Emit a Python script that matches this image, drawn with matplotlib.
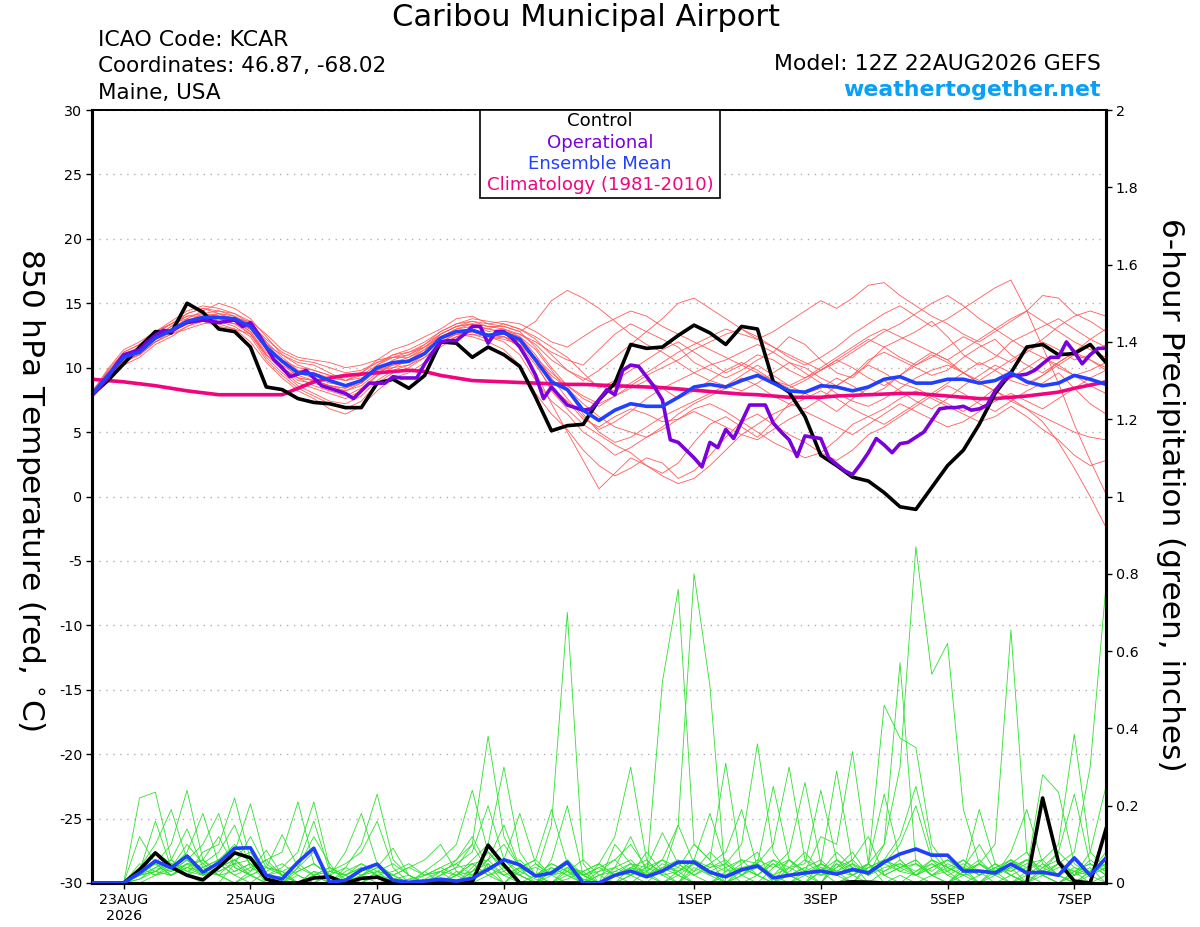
import numpy as np
import matplotlib
matplotlib.use('Agg')
import matplotlib.pyplot as plt
import matplotlib.dates as mdates

plt.rcParams['font.family'] = ['DejaVu Sans']

# ---- data ----
run_start = np.datetime64('2026-08-22T12:00')
n6 = 65   # 6-hourly steps, 22AUG 12Z .. 7SEP 12Z
n3 = 129  # 3-hourly steps for the operational run

tick_dates = ['2026-08-23', '2026-08-25', '2026-08-27', '2026-08-29',
              '2026-09-01', '2026-09-03', '2026-09-05', '2026-09-07']
tick_labels = ['23AUG\n2026', '25AUG', '27AUG', '29AUG', '1SEP', '3SEP', '5SEP', '7SEP']

# 850 hPa temperature, deg C
control_t = [7.9, 9.0, 10.3, 11.6, 12.8, 12.7, 15.0, 14.3, 13.0, 12.8, 11.6, 8.5, 8.3,
             7.6, 7.3, 7.2, 6.9, 6.9, 8.8, 9.1, 8.4, 9.4, 12.0, 11.9, 10.8, 11.6,
             11.0, 10.1, 7.7, 5.1, 5.5, 5.6, 7.5, 8.8, 11.8, 11.5, 11.6, 12.5, 13.3,
             12.7, 11.8, 13.2, 13.0, 8.9, 8.1, 6.2, 3.2, 2.4, 1.5, 1.2, 0.3, -0.8,
             -1.0, 0.7, 2.4, 3.6, 5.6, 8.0, 9.6, 11.6, 11.8, 11.0, 11.1, 11.8, 10.4]

operational_t = [7.9, 8.5, 9.2, 10.2, 11.0, 11.2, 11.4, 12.0,
                 12.5, 12.9, 12.8, 13.2, 13.5, 13.6, 13.7, 13.6,
                 13.5, 13.6, 13.7, 13.2, 13.5, 12.6, 11.6, 10.6,
                 10.0, 9.3, 9.5, 9.8, 9.2, 8.6, 8.4, 8.2,
                 8.0, 7.6, 8.2, 8.8, 8.8, 8.8, 9.3, 9.2,
                 9.2, 9.2, 10.3, 11.2, 12.0, 12.1, 12.1, 12.6,
                 13.2, 13.2, 11.9, 12.8, 12.8, 12.3, 11.6, 10.6,
                 9.4, 7.6, 8.5, 7.8, 7.1, 6.9, 6.7, 6.8,
                 7.5, 8.3, 7.9, 9.8, 10.2, 10.1, 9.3, 8.5,
                 7.5, 4.4, 4.2, 3.6, 3.0, 2.3, 4.2, 3.8,
                 5.2, 4.5, 5.8, 7.1, 7.1, 7.1, 5.7, 5.0,
                 4.4, 3.1, 4.7, 4.6, 4.5, 3.0, 2.5, 2.0,
                 1.7, 2.5, 3.4, 4.5, 4.0, 3.4, 4.1, 4.2,
                 4.6, 5.0, 5.9, 6.8, 6.9, 6.9, 7.0, 6.7,
                 6.8, 7.1, 8.2, 9.0, 9.4, 9.4, 9.5, 9.8,
                 10.3, 10.8, 10.8, 12.0, 11.2, 10.3, 11.0, 11.5,
                 11.5]

mean_t = [7.9, 9.4, 10.8, 11.2, 12.3, 12.9, 13.6, 13.9, 13.9, 13.8, 13.2, 11.6, 10.5,
          9.6, 9.5, 9.0, 8.6, 9.0, 10.0, 10.4, 10.5, 11.1, 12.3, 12.8, 12.9, 12.5,
          12.7, 12.2, 10.6, 8.9, 8.3, 6.7, 5.9, 6.7, 7.2, 7.0, 7.0, 7.7, 8.5,
          8.7, 8.5, 9.0, 9.4, 8.8, 8.2, 8.1, 8.6, 8.5, 8.2, 8.5, 9.1, 9.3,
          8.8, 8.8, 9.1, 9.1, 8.8, 9.0, 9.6, 8.9, 8.6, 8.8, 9.4, 9.1, 8.7]

clim_t = [9.1, 9.0, 8.9, 8.75, 8.6, 8.4, 8.2, 8.05, 7.9, 7.9, 7.9, 7.9, 7.9,
          8.4, 8.9, 9.2, 9.4, 9.5, 9.6, 9.7, 9.8, 9.7, 9.4, 9.2, 9.0, 8.95,
          8.9, 8.85, 8.8, 8.75, 8.7, 8.7, 8.65, 8.6, 8.55, 8.5, 8.45, 8.35, 8.25,
          8.15, 8.05, 7.95, 7.9, 7.8, 7.7, 7.7, 7.7, 7.8, 7.85, 7.9, 7.95, 8.0,
          8.0, 7.9, 7.8, 7.7, 7.6, 7.6, 7.7, 7.8, 7.95, 8.1, 8.4, 8.65, 8.9]

member_t = [
    [8.0, 9.8, 11.2, 11.8, 12.6, 13.4, 14.2, 14.6, 14.2, 13.6, 12.8, 11.2, 10.2,
     9.4, 9.0, 8.6, 8.2, 8.8, 9.8, 10.6, 11.0, 11.8, 12.6, 13.2, 13.4, 12.8,
     13.0, 12.6, 12.0, 11.2, 10.6, 10.2, 11.4, 12.6, 13.4, 12.8, 12.2, 11.6, 10.4,
     9.8, 9.2, 9.8, 10.6, 11.2, 12.4, 11.8, 10.6, 9.6, 9.2, 10.4, 11.6, 12.2,
     12.8, 13.6, 12.4, 11.0, 10.2, 10.8, 12.0, 12.6, 13.2, 13.8, 13.0, 12.2, 11.6],
    [7.8, 9.0, 10.4, 11.0, 12.0, 12.6, 13.2, 13.8, 14.0, 13.6, 12.6, 10.8, 9.6,
     8.6, 8.0, 7.4, 7.2, 7.8, 9.0, 9.8, 10.2, 11.0, 12.2, 12.6, 12.4, 12.0,
     11.4, 10.2, 8.0, 6.4, 5.2, 3.6, 2.4, 1.6, 2.2, 3.0, 2.6, 1.4, 2.0,
     3.2, 4.6, 5.8, 6.4, 5.6, 4.8, 4.2, 3.4, 2.8, 3.6, 4.8, 5.4, 6.2,
     7.0, 7.8, 8.6, 8.0, 7.2, 6.6, 7.4, 8.2, 8.8, 9.6, 8.4, 7.2, 6.4],
    [8.2, 9.6, 10.8, 11.6, 12.2, 13.0, 13.8, 14.4, 15.0, 14.6, 13.8, 12.4, 11.0,
     10.2, 9.8, 9.4, 9.0, 9.6, 10.6, 11.4, 11.8, 12.4, 13.0, 13.8, 14.0, 13.4,
     13.2, 12.8, 13.6, 15.2, 16.0, 15.4, 14.6, 13.6, 12.6, 11.8, 11.2, 10.4, 9.6,
     9.0, 8.6, 8.2, 8.8, 9.6, 10.4, 10.0, 9.2, 8.6, 9.4, 10.6, 11.2, 10.6,
     10.0, 9.4, 9.8, 10.8, 11.6, 12.2, 11.0, 10.2, 9.6, 10.4, 11.2, 10.6, 9.8],
    [7.6, 9.2, 10.6, 11.0, 12.0, 12.8, 13.4, 13.6, 13.4, 13.0, 12.0, 10.4, 9.2,
     8.2, 7.6, 6.8, 6.4, 7.0, 8.2, 9.2, 9.6, 10.4, 11.6, 12.4, 12.6, 12.2,
     12.4, 11.6, 9.6, 7.2, 5.0, 2.8, 0.6, 1.8, 3.0, 2.4, 1.8, 2.6, 4.2,
     5.6, 6.2, 5.4, 4.6, 5.8, 7.2, 8.0, 7.4, 6.6, 7.6, 8.4, 9.0, 8.2,
     7.4, 6.8, 7.6, 8.6, 9.4, 10.2, 9.6, 8.8, 9.4, 10.4, 11.2, 12.2, 13.0],
    [7.9, 9.4, 11.0, 11.4, 12.4, 13.2, 14.0, 14.0, 13.6, 13.4, 13.0, 11.8, 11.0,
     10.4, 10.2, 9.6, 9.0, 9.2, 9.8, 10.0, 10.2, 10.8, 11.8, 12.4, 12.8, 12.6,
     12.8, 12.4, 11.4, 9.8, 8.2, 6.4, 5.0, 4.2, 4.6, 5.4, 6.2, 6.8, 7.4,
     8.0, 8.6, 9.4, 10.2, 9.4, 8.6, 8.0, 8.4, 9.2, 8.6, 7.8, 8.4, 9.4,
     10.4, 11.2, 10.6, 9.6, 8.8, 8.2, 7.6, 6.8, 5.8, 4.2, 2.2, 0.0, -2.4],
    [8.0, 9.6, 10.8, 11.6, 12.8, 13.6, 14.4, 14.8, 14.6, 14.2, 13.4, 12.0, 10.8,
     9.8, 9.6, 9.2, 9.0, 9.4, 10.2, 10.8, 11.2, 11.6, 12.4, 13.0, 13.2, 13.0,
     12.8, 12.6, 11.8, 10.6, 9.8, 9.2, 8.6, 8.2, 8.8, 9.6, 10.4, 11.2, 11.8,
     12.4, 13.0, 12.6, 12.2, 12.8, 13.6, 14.4, 15.2, 14.6, 15.4, 16.4, 16.6, 15.6,
     14.8, 14.0, 13.4, 12.6, 12.0, 12.8, 13.6, 14.4, 15.6, 15.4, 14.2, 13.6, 12.8],
    [7.7, 9.0, 10.2, 10.8, 11.8, 12.4, 13.2, 13.6, 13.8, 13.6, 13.0, 11.4, 10.0,
     9.0, 8.8, 8.4, 8.2, 8.6, 9.6, 10.2, 10.4, 11.2, 12.0, 12.6, 12.8, 12.4,
     12.2, 11.8, 10.2, 8.4, 7.4, 6.0, 5.4, 6.2, 6.8, 6.4, 5.8, 6.0, 6.8,
     7.2, 6.6, 5.8, 5.0, 4.2, 3.6, 3.0, 3.4, 4.4, 5.6, 6.2, 6.8, 7.6,
     8.2, 7.6, 7.0, 6.4, 5.8, 6.2, 7.0, 6.2, 5.2, 4.4, 3.2, 2.4, 2.8],
    [8.1, 9.5, 11.0, 11.6, 12.6, 13.0, 13.4, 13.8, 14.2, 14.0, 13.4, 12.2, 11.2,
     10.6, 10.4, 10.0, 9.6, 9.8, 10.4, 10.8, 10.8, 11.4, 12.6, 13.2, 13.4, 13.0,
     13.4, 13.0, 12.4, 11.6, 10.8, 9.6, 8.4, 9.0, 9.8, 10.6, 11.4, 12.0, 11.2,
     10.4, 9.6, 10.2, 11.0, 10.6, 9.8, 9.2, 9.8, 10.6, 11.4, 12.2, 11.6, 10.8,
     10.2, 10.8, 11.6, 12.4, 11.8, 11.0, 10.4, 11.2, 12.0, 11.4, 10.6, 11.0, 11.8],
    [7.8, 9.2, 10.6, 11.2, 12.2, 12.8, 13.4, 14.0, 14.2, 13.8, 13.6, 12.0, 10.4,
     9.2, 8.6, 8.2, 7.8, 8.4, 9.4, 10.0, 10.6, 11.4, 12.2, 12.8, 13.0, 12.6,
     12.6, 12.0, 10.4, 8.2, 6.8, 5.6, 4.8, 4.0, 3.4, 2.4, 1.6, 1.0, 1.4,
     2.4, 3.6, 4.8, 5.6, 6.4, 7.0, 7.6, 8.2, 7.6, 6.8, 6.2, 5.6, 6.4,
     7.2, 8.0, 8.8, 9.6, 10.4, 9.8, 9.0, 8.6, 9.4, 10.2, 11.0, 10.6, 10.0],
    [8.0, 9.7, 11.0, 11.4, 12.4, 13.2, 14.2, 14.6, 14.4, 14.0, 13.0, 11.4, 10.6,
     10.0, 9.8, 9.4, 9.2, 9.6, 10.4, 11.0, 11.2, 11.8, 12.8, 13.4, 13.6, 13.4,
     13.6, 13.4, 12.8, 12.0, 11.6, 12.4, 13.2, 13.8, 14.4, 14.0, 13.2, 12.6, 12.0,
     11.4, 10.8, 10.2, 9.6, 9.0, 8.6, 9.2, 10.0, 10.8, 11.6, 12.4, 13.0, 12.4,
     11.8, 11.2, 10.6, 11.4, 12.2, 13.0, 13.8, 14.4, 13.6, 12.8, 12.0, 11.4, 10.8],
    [7.9, 9.3, 10.9, 11.2, 12.2, 12.8, 13.6, 14.2, 14.4, 14.2, 13.6, 12.6, 11.4,
     10.8, 10.6, 10.4, 10.0, 10.2, 10.6, 10.8, 11.0, 11.6, 12.4, 13.0, 13.4, 13.2,
     13.0, 12.4, 11.0, 9.2, 7.6, 6.2, 5.2, 5.8, 6.6, 7.6, 8.4, 9.0, 9.6,
     10.2, 10.6, 11.2, 11.8, 11.2, 10.4, 9.6, 8.8, 8.0, 7.4, 7.0, 7.6, 8.4,
     9.2, 9.8, 10.2, 9.6, 8.8, 8.2, 7.4, 6.8, 6.2, 5.6, 5.0, 4.6, 4.4],
    [7.7, 9.1, 10.5, 11.0, 12.0, 12.6, 13.0, 13.4, 13.6, 13.2, 12.4, 10.6, 9.4,
     8.4, 7.8, 7.2, 6.8, 7.4, 8.8, 9.6, 10.0, 10.8, 11.8, 12.4, 12.6, 12.4,
     12.0, 11.0, 9.0, 7.4, 6.4, 5.0, 4.2, 3.2, 3.8, 4.6, 5.4, 6.4, 7.2,
     7.8, 8.4, 9.2, 8.6, 7.8, 7.2, 6.8, 7.6, 8.6, 9.4, 10.2, 9.6, 8.8,
     8.4, 7.8, 7.2, 6.6, 7.4, 8.4, 9.2, 10.0, 10.8, 10.2, 9.4, 8.6, 8.0],
    [8.1, 9.9, 11.4, 12.0, 12.8, 13.4, 14.0, 14.2, 14.0, 13.6, 12.8, 11.0, 9.8,
     8.8, 8.4, 8.0, 7.6, 8.2, 9.4, 10.4, 10.8, 11.6, 12.6, 13.2, 13.6, 13.2,
     13.2, 12.8, 11.6, 10.0, 8.6, 7.6, 7.0, 7.8, 8.6, 9.4, 10.0, 10.6, 11.4,
     12.0, 12.6, 13.0, 12.4, 11.6, 10.8, 10.2, 10.8, 11.6, 12.6, 13.4, 14.2, 14.8,
     14.0, 13.2, 13.8, 14.6, 15.4, 16.2, 16.8, 14.4, 11.6, 8.8, 5.6, 2.8, 0.2],
    [7.9, 9.5, 10.9, 11.4, 12.4, 13.0, 13.6, 14.0, 14.0, 13.6, 13.2, 11.6, 10.6,
     9.6, 9.2, 8.8, 8.6, 9.0, 9.8, 10.2, 10.6, 11.2, 12.2, 12.8, 13.0, 12.6,
     12.4, 11.8, 10.6, 9.4, 8.4, 7.2, 6.2, 5.4, 5.0, 4.6, 5.2, 6.0, 6.6,
     6.0, 5.4, 4.8, 4.4, 5.2, 6.0, 6.6, 6.0, 5.4, 4.8, 5.6, 6.4, 7.2,
     6.6, 6.0, 5.4, 5.8, 6.6, 7.4, 8.0, 7.4, 6.8, 7.6, 8.4, 9.2, 9.8],
    [8.0, 9.6, 11.2, 11.8, 12.8, 13.4, 13.8, 13.6, 13.2, 13.0, 12.6, 11.0, 10.0,
     9.2, 9.0, 8.6, 8.4, 9.0, 10.2, 11.0, 11.4, 12.0, 12.8, 13.4, 13.8, 13.6,
     13.4, 13.0, 12.2, 11.0, 9.8, 9.0, 9.8, 10.8, 11.8, 12.8, 13.8, 15.0, 15.4,
     14.6, 13.8, 13.0, 12.2, 11.6, 11.0, 10.4, 9.8, 10.4, 11.2, 12.0, 12.8, 13.4,
     14.2, 15.0, 15.6, 14.8, 13.8, 13.0, 12.2, 11.4, 12.2, 13.2, 14.0, 14.4, 14.0],
    [7.8, 9.3, 10.6, 11.4, 12.2, 12.8, 13.4, 13.8, 13.8, 13.4, 12.6, 11.0, 10.0,
     9.2, 9.0, 8.6, 8.4, 8.8, 9.8, 10.4, 10.6, 11.2, 12.0, 12.6, 12.8, 12.4,
     12.4, 12.0, 10.8, 9.6, 8.6, 7.8, 7.2, 7.8, 8.4, 9.0, 8.4, 7.6, 8.2,
     9.0, 9.8, 10.4, 9.8, 9.0, 8.4, 9.0, 9.8, 10.6, 10.0, 9.2, 8.6, 9.4,
     10.2, 11.0, 10.4, 9.6, 9.0, 9.8, 10.6, 11.4, 10.8, 10.0, 9.4, 9.8, 10.4],
]

# 6-hour precipitation, inches
control_p = [0, 0, 0, .034, .078, .041, .020, .008, .041, .078, .065, .010, 0,
             0, .013, .016, 0, .012, .015, 0, 0, 0, 0, 0, .003, .098,
             .047, 0, 0, 0, 0, 0, 0, 0, 0, 0, 0, 0, 0,
             0, 0, 0, 0, 0, 0, 0, 0, 0, .003, .002, 0, 0,
             0, 0, 0, 0, 0, 0, 0, 0, .22, .054, .005, 0, .14]

mean_p = [0, 0, 0, .026, .057, .039, .070, .028, .052, .090, .091, .020, .010,
          .054, .090, .002, .007, .034, .049, .007, .002, .005, .010, .005, .012, .035,
          .060, .047, .018, .026, .054, 0, 0, .020, .031, .016, .031, .054, .054,
          .028, .016, .034, .044, .013, .020, .026, .031, .023, .035, .026, .054, .075,
          .088, .072, .072, .031, .031, .026, .049, .026, .028, .020, .065, .020, .065]

member_p = [
    [0, 0, 0, .22, .235, .06, .02, 0, 0, .05, .02, 0, 0,
     0, .03, 0, 0, 0, 0, 0, 0, 0, 0, .02, 0, .05,
     0, 0, .02, .15, .70, .05, 0, 0, .02, 0, 0, .03, 0,
     0, 0, 0, 0, 0, 0, 0, .05, .29, .05, 0, 0, .02,
     0, 0, 0, .02, .03, 0, 0, 0, .04, .02, 0, 0, 0],
    [0, 0, 0, .12, .05, .03, .06, .10, .18, .04, .02, 0, 0,
     .02, 0, 0, 0, .03, .05, 0, 0, 0, 0, 0, .04, .08,
     .03, 0, 0, .06, .20, .02, 0, 0, 0, 0, .04, .02, 0,
     0, .02, .05, .08, 0, 0, .03, .12, .10, .34, .05, 0, 0,
     .03, .05, .02, 0, 0, .04, .02, 0, 0, 0, .02, .06, .03],
    [0, 0, 0, .03, .16, .04, .10, .05, .02, .06, .08, .01, 0,
     .04, .08, .02, 0, 0, .02, 0, 0, .01, .03, 0, .02, .06,
     .10, .04, 0, 0, .04, 0, 0, .10, .05, .02, 0, 0, .06,
     .03, 0, 0, .02, .05, .02, 0, 0, .04, .06, .12, .02, 0,
     0, .02, .05, .03, 0, 0, .02, .04, .02, 0, 0, .03, .08],
    [0, 0, 0, .02, .08, .05, .04, .02, .06, .10, .05, .02, 0,
     0, .02, .04, .01, 0, .03, 0, 0, 0, 0, .02, .05, .02,
     0, .03, .01, 0, .02, 0, .05, .12, .30, .06, .02, 0, .03,
     .08, .04, 0, 0, 0, .02, .04, .02, .03, .02, .05, .46, .375,
     .35, .10, .04, .02, 0, .03, .06, .02, 0, 0, .02, .04, 0],
    [0, 0, 0, .04, .10, .19, .06, .03, .02, 0, .03, .06, .02,
     0, 0, .03, .02, 0, 0, .01, 0, 0, .02, .06, .12, .04,
     .02, 0, 0, .02, .05, .01, 0, .04, .12, .03, 0, .02, 0,
     0, .03, .06, .02, 0, .04, .08, .03, 0, .02, .05, .23, .06,
     .02, 0, 0, .04, .10, .03, 0, .02, .05, .02, 0, .03, .05],
    [0, 0, 0, .02, .05, .10, .24, .06, .02, .03, .05, 0, 0,
     .04, .12, .05, 0, .02, 0, 0, 0, .03, 0, 0, .03, .08,
     .04, .02, 0, .03, .06, .02, 0, 0, .02, .08, .03, 0, .04,
     .02, 0, .04, .05, .02, 0, .02, .05, .03, 0, .05, .10, .30,
     .87, .54, .62, .19, .05, .02, 0, .03, .06, .02, 0, .02, .04],
    [0, 0, 0, .01, .03, .06, .14, .04, .02, 0, .02, .04, .03,
     0, 0, .02, .08, .18, .05, 0, .01, 0, .02, .04, .10, .03,
     0, .04, .02, 0, .03, .01, 0, .02, .04, .02, .52, .76, .10,
     .06, 0, .02, .05, 0, .03, .06, .02, .04, .08, .02, .10, .57,
     .05, .02, 0, .03, .06, .02, .04, 0, .02, .05, .03, 0, .02],
    [0, 0, 0, 0, .02, .04, .08, .18, .05, .02, 0, .03, .05,
     .02, 0, 0, .04, .10, .23, .06, .02, 0, 0, .02, .05, .02,
     .03, .06, .02, 0, .01, .03, 0, .02, .05, .04, .13, .05, .02,
     0, .02, .04, .02, 0, .06, .03, 0, .05, .02, .04, .06, .12,
     .25, .08, .03, 0, .02, .05, .02, 0, .03, .08, .04, .02, 0],
    [0, 0, 0, .05, .03, .02, .05, .06, .12, .04, .02, 0, .02,
     0, .02, .03, .05, .08, .16, .04, 0, 0, .01, 0, .03, .06,
     .02, .04, .06, .02, 0, 0, .02, .03, .02, .04, .06, .15, .05,
     .03, 0, .02, .04, .06, .02, 0, .03, .08, .04, .02, .05, .10,
     .20, .06, .02, .04, 0, .02, .05, .08, .02, 0, .03, .05, .02],
    [0, 0, 0, .02, .06, .04, .02, .08, .10, .22, .06, .02, 0,
     .03, .05, .02, 0, .02, .04, .09, .02, 0, 0, .03, .02, .04,
     .06, .02, 0, .04, .02, 0, .03, .06, .10, .04, .02, .15, .80,
     .51, 0, .03, .05, .02, .04, .02, 0, .06, .03, .05, .02, .04,
     .06, .02, 0, .03, .05, .02, .04, .06, .02, 0, .03, .02, .05],
    [0, 0, 0, .01, .04, .06, .03, .05, .08, .15, .04, .02, .03,
     0, .02, .04, .02, 0, .03, .02, .04, .06, .10, .03, 0, .02,
     .04, .02, .05, .02, .03, .06, .02, 0, .04, .02, .05, .03, .06,
     .18, .05, .02, 0, .04, .06, .03, .02, .05, .02, 0, .03, .06,
     .02, .04, .06, .03, .19, .05, .02, 0, .04, .06, .02, .03, .06],
    [0, 0, 0, .02, .03, .02, .05, .04, .06, .08, .205, .05, .02,
     0, .03, .02, 0, .02, .05, .02, 0, .03, .06, .10, .24, .08,
     .04, .02, 0, .03, .05, .02, .04, .02, 0, .03, .06, .04, .10,
     .06, .31, .04, .02, .05, .02, 0, .03, .06, .04, .02, .05, .03,
     .02, .06, .04, .02, .05, .10, .655, .08, .02, .04, .03, .05, .02],
    [0, 0, 0, .03, .05, .02, .04, .06, .03, .05, .12, .04, .02,
     .05, .02, 0, .02, .04, .02, 0, .01, .02, .04, .06, .10, .38,
     .12, .04, .02, .05, .03, 0, .02, .04, .06, .02, .04, .06, .03,
     .05, .08, .19, .04, .02, .06, .03, .05, .02, 0, .04, .06, .03,
     .05, .02, .04, .06, .03, .02, .08, .19, .05, .02, .04, .03, .06],
    [0, 0, 0, .04, .02, .05, .03, .02, .04, .06, .03, .085, .02,
     .03, .05, .02, 0, .02, .04, .02, 0, .02, .03, .05, .08, .20,
     .06, .03, .04, .02, .05, .02, 0, .03, .05, .02, .04, .03, .06,
     .04, .05, .10, .36, .08, .02, .04, .06, .02, .03, .05, .02, .04,
     .06, .02, .03, .05, .02, .04, .06, .03, .28, .235, .05, .02, .04],
    [0, 0, 0, .02, .04, .03, .06, .02, .03, .05, .06, .04, .125,
     .04, .02, 0, .03, .05, .02, .01, .02, 0, .03, .02, .06, .10,
     .30, .08, .02, .04, .02, .03, .05, .02, .04, .06, .02, .03, .05,
     .02, .04, .06, .05, .25, .06, .02, .04, .03, .05, .02, .06, .04,
     .02, .05, .03, .06, .02, .04, .03, .05, .06, .10, .385, .08, .04],
    [0, 0, 0, .03, .05, .02, .04, .03, .05, .02, .04, .06, .08,
     .21, .05, .02, .04, .02, .03, .05, .02, 0, .02, .04, .05, .06,
     .15, .04, .02, .05, .03, .02, .04, .06, .02, .04, .03, .05, .02,
     .04, .06, .02, .05, .10, .30, .06, .04, .02, .05, .03, .06, .04,
     .05, .03, .06, .04, .02, .05, .03, .06, .04, .08, .23, .05, .03],
    [0, 0, 0, .02, .03, .05, .02, .04, .06, .03, .05, .02, .04,
     .08, .21, .04, .02, .05, .03, .02, .04, .02, .03, .05, .02, .04,
     .06, .18, .05, .02, .04, .03, .05, .02, .04, .03, .06, .02, .05,
     .03, .05, .02, .06, .04, .08, .26, .05, .03, .06, .02, .04, .05,
     .03, .06, .04, .02, .05, .03, .06, .04, .02, .05, .08, .30, .77],
    [0, 0, 0, .04, .02, .03, .05, .02, .04, .06, .02, .04, .03,
     .05, .16, .03, .02, .04, .02, .03, .05, .02, .04, .02, .03, .05,
     .02, .04, .06, .19, .05, .02, .03, .04, .02, .05, .03, .04, .02,
     .05, .03, .04, .02, .06, .04, .05, .24, .06, .02, .04, .03, .05,
     .02, .04, .06, .03, .05, .02, .04, .06, .03, .05, .02, .08, .25],
]

t6 = mdates.date2num(run_start + np.arange(n6) * np.timedelta64(6, 'h'))
t3 = mdates.date2num(run_start + np.arange(n3) * np.timedelta64(3, 'h'))
ticks = mdates.date2num(np.array(tick_dates, dtype='datetime64[h]'))

# ---- colours ----
red = '#ff5a5a'
green = '#2ee02e'
blue = '#2040ff'
purple = '#7a00dc'
pink = '#f0047f'
webblue = '#0aa0f5'

fig = plt.figure(figsize=(12, 9.27), dpi=100)
ax = fig.add_axes([92 / 1200, 1 - 883 / 927, (1106 - 92) / 1200, (883 - 110) / 927])
ax2 = ax.twinx()

# temperature
for m in member_t:
    ax.plot(t6, m, color=red, lw=0.6, zorder=2)
ax.plot(t6, clim_t, color=pink, lw=2.6, zorder=3)
ax.plot(t6, control_t, color='black', lw=2.6, zorder=4)
ax.plot(t3, operational_t, color=purple, lw=2.6, zorder=5)
ax.plot(t6, mean_t, color=blue, lw=2.6, zorder=6)

# precipitation
for m in member_p:
    ax2.plot(t6, m, color=green, lw=0.6, zorder=2)
ax2.plot(t6, control_p, color='black', lw=2.6, zorder=4)
ax2.plot(t6, mean_p, color=blue, lw=2.6, zorder=5)

ax.set_xlim(t6[0], t6[-1])
ax.set_ylim(-30, 30)
ax2.set_ylim(0, 2)

ax.set_yticks(np.arange(-30, 31, 5))
ax.set_yticklabels([str(v) for v in range(-30, 31, 5)])
ax.yaxis.grid(True, color='#b0b0b0', linestyle=(0, (1, 4)), lw=1.0)
ax.set_axisbelow(True)

rticks = np.arange(0, 2.01, 0.2)
ax2.set_yticks(rticks)
ax2.set_yticklabels(['0', '0.2', '0.4', '0.6', '0.8', '1', '1.2', '1.4', '1.6', '1.8', '2'])

ax.set_xticks(ticks)
ax.set_xticklabels(tick_labels)

for a in (ax, ax2):
    a.tick_params(axis='both', direction='out', length=4, width=1, labelsize=10.3,
                  pad=3, colors='black')
    for s in ('left', 'right', 'bottom'):
        a.spines[s].set_linewidth(2.2)
    a.spines['top'].set_linewidth(1.3)

fig.text(30 / 1200, 1 - 490 / 927, r'850 hPa Temperature (red, $^{\circ}$C)',
         fontsize=22.5, rotation=270, ha='center', va='center')
fig.text(1170 / 1200, 1 - 495 / 927, '6-hour Precipitation (green, inches)',
         fontsize=22.5, rotation=270, ha='center', va='center')

# legend box
leg_items = [('Control', 'black'), ('Operational', purple),
             ('Ensemble Mean', blue), ('Climatology (1981-2010)', pink)]
box = plt.Rectangle((480 / 1200, 1 - 198 / 927), 240 / 1200, 88 / 927,
                    transform=fig.transFigure, fill=True, facecolor='white',
                    edgecolor='black', lw=1.2, zorder=10)
fig.patches.append(box)
for k, (txt, col) in enumerate(leg_items):
    fig.text(600 / 1200, 1 - (121 + 21.5 * k) / 927, txt, color=col, fontsize=13.1,
             ha='center', va='center', zorder=11)

# header text
fig.text(586 / 1200, 1 - 18 / 927, 'Caribou Municipal Airport', fontsize=22,
         ha='center', va='center')
fig.text(98 / 1200, 1 - 40 / 927, 'ICAO Code: KCAR', fontsize=15.8, ha='left', va='center')
fig.text(98 / 1200, 1 - 66 / 927, 'Coordinates: 46.87, -68.02', fontsize=15.5,
         ha='left', va='center')
fig.text(98 / 1200, 1 - 93 / 927, 'Maine, USA', fontsize=15.5, ha='left', va='center')
fig.text(1101 / 1200, 1 - 64 / 927, 'Model: 12Z 22AUG2026 GEFS', fontsize=15.8,
         ha='right', va='center')
fig.text(1101 / 1200, 1 - 90 / 927, 'weathertogether.net', fontsize=15.8, ha='right',
         va='center', color=webblue, fontweight='bold')

fig.savefig('out.png', dpi=100)
